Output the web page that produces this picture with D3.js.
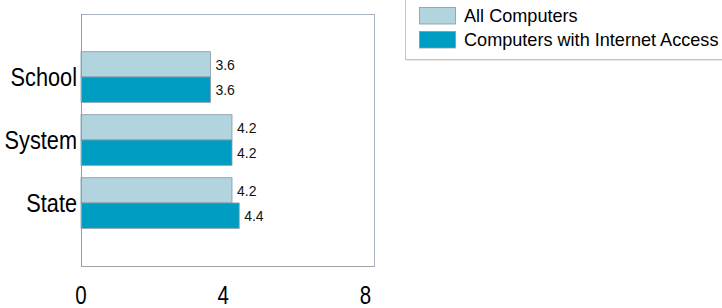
<!DOCTYPE html>
<html>
<head>
<meta charset="utf-8">
<script src="https://cdn.jsdelivr.net/npm/d3@7"></script>
<style>
body { margin: 0; background: #fff; }
svg { display: block; }
</style>
</head>
<body>
<div id="chart"></div>
<script>
var svgWidth = 722;
var svgHeight = 308;

var categories = ["School", "System", "State"];
var seriesNames = ["All Computers", "Computers with Internet Access"];
var allComputers = [3.6, 4.2, 4.2];
var internetComputers = [3.6, 4.2, 4.4];
var xTicks = [0, 4, 8];

var colors = ["#b1d4df", "#009dc3"];

var plotLeft = 81;
var plotRight = 374;
var plotTop = 14;
var plotBottom = 266;
var barH = 25.3;
var narrow = 0.82; // squeeze for the condensed axis font

var svg = d3.select("#chart")
    .append("svg")
    .attr("width", svgWidth)
    .attr("height", svgHeight);

var xScale = d3.scaleLinear()
    .domain([0, 8.15])
    .range([plotLeft, plotRight]);

var yScale = d3.scalePoint()
    .domain(categories)
    .range([plotTop, plotBottom])
    .padding(1);

// frame
svg.append("rect")
    .attr("x", plotLeft + 0.5)
    .attr("y", plotTop + 0.5)
    .attr("width", plotRight - plotLeft)
    .attr("height", plotBottom - plotTop)
    .attr("fill", "#fff")
    .attr("stroke", "#aab3c3");

svg.append("line")
    .attr("x1", plotLeft + 0.5).attr("x2", plotRight + 0.5)
    .attr("y1", plotBottom + 0.5).attr("y2", plotBottom + 0.5)
    .attr("stroke", "#a3a3a3");

var series = [allComputers, internetComputers];

series.forEach(function(vals, s) {
    var g = svg.append("g");
    g.selectAll("rect")
        .data(vals)
        .enter()
        .append("rect")
        .attr("x", xScale(0))
        .attr("y", function(d, i) {
            return yScale(categories[i]) - barH + s * barH;
        })
        .attr("width", function(d) { return xScale(d) - xScale(0); })
        .attr("height", barH)
        .attr("fill", colors[s])
        .attr("stroke", "#8398aa")
        .attr("stroke-width", 0.8);

    g.selectAll("text")
        .data(vals)
        .enter()
        .append("text")
        .attr("x", function(d) { return xScale(d) + 5; })
        .attr("y", function(d, i) {
            return yScale(categories[i]) - barH / 2 + s * barH;
        })
        .attr("dy", "0.4em")
        .attr("font-family", "Liberation Sans, Arial, sans-serif")
        .attr("font-size", 14)
        .attr("fill", "#111")
        .text(function(d) { return d3.format(".1f")(d); });
});

// left axis line on top
svg.append("line")
    .attr("x1", plotLeft + 0.5).attr("x2", plotLeft + 0.5)
    .attr("y1", plotTop).attr("y2", plotBottom + 1)
    .attr("stroke", "#9a9a9a");

// category labels
svg.append("g")
    .selectAll("text")
    .data(categories)
    .enter()
    .append("text")
    .attr("transform", function(d) {
        return "translate(77," + yScale(d) + ") scale(" + narrow + ",1)";
    })
    .attr("dy", "0.33em")
    .attr("text-anchor", "end")
    .attr("font-family", "Liberation Sans, Arial, sans-serif")
    .attr("font-size", 26.5)
    .attr("fill", "#000")
    .text(function(d) { return d; });

// x tick labels
svg.append("g")
    .selectAll("text")
    .data(xTicks)
    .enter()
    .append("text")
    .attr("transform", function(d) {
        return "translate(" + (xScale(d) - d * 0.4) + ",304) scale(" + narrow + ",1)";
    })
    .attr("text-anchor", "middle")
    .attr("font-family", "Liberation Sans, Arial, sans-serif")
    .attr("font-size", 25)
    .attr("fill", "#000")
    .text(function(d) { return d; });

// legend
var legend = svg.append("g");
legend.append("rect")
    .attr("x", 406.5).attr("y", -10)
    .attr("width", 340).attr("height", 71)
    .attr("fill", "#e6e6e6");
legend.append("rect")
    .attr("x", 405.5).attr("y", -10)
    .attr("width", 340).attr("height", 69.5)
    .attr("fill", "#fff")
    .attr("stroke", "#c4c4c4");

legend.selectAll(".sw")
    .data(seriesNames)
    .enter()
    .append("rect")
    .attr("class", "sw")
    .attr("x", 419.5)
    .attr("y", function(d, i) { return 7.5 + i * 24; })
    .attr("width", 36)
    .attr("height", 16.5)
    .attr("fill", function(d, i) { return colors[i]; })
    .attr("stroke", "#8398aa")
    .attr("stroke-width", 0.8);

legend.selectAll(".lt")
    .data(seriesNames)
    .enter()
    .append("text")
    .attr("class", "lt")
    .attr("x", 464)
    .attr("y", function(d, i) { return 22 + i * 24; })
    .attr("font-family", "Liberation Sans, Arial, sans-serif")
    .attr("font-size", 18.1)
    .attr("fill", "#000")
    .text(function(d) { return d; });
</script>
</body>
</html>
